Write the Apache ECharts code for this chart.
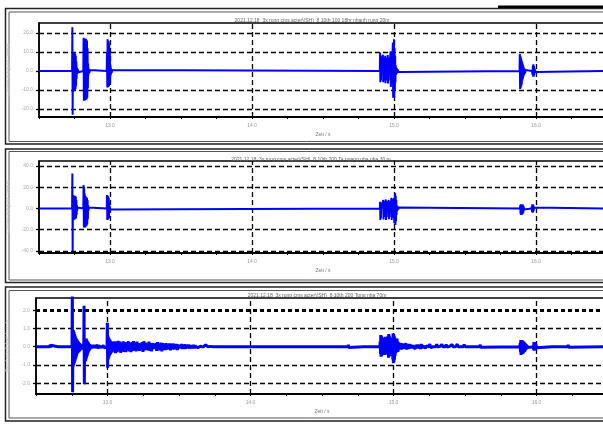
<!DOCTYPE html>
<html><head><meta charset="utf-8">
<script src="https://cdn.jsdelivr.net/npm/echarts@6/dist/echarts.min.js"></script>
<style>html,body{margin:0;padding:0;background:#fff;overflow:hidden}#c{width:603px;height:427px}</style>
</head><body><div id="c"></div><script>
// ---------- data ----------
const xMin = 12.5, xMax = 16.5;
const xMajor = [13, 14, 15, 16];
const xAxisName = 'Zeit / s';
const yAxisName = 'Geschwindigkeit / mm/s';
const SAMPLE_DT = 0.002;   // burst sample spacing (s)
const TAIL_DT = 0.006;     // tail sample spacing (s)

const titles = [
  '2021.12.18_3x rung cms acter\\(SH)_8 10th 100 18hr nhanh rung 20m',
  '2021.12.18_3x rung cms acter\\(SH)_8 10th 200 Ta ngang nha nha 30 m',
  '2021.12.18_3x rung cms acter\\(SH)_8 10th 200 Tong nha 70m'
];

const yTicks1 = [-20, -10, 0, 10, 20];
const yRange1 = [-24.2, 25.3];
const yTicks2 = [-40, -20, 0, 20, 40];
const yRange2 = [-41.9, 44.7];
const yTicks3 = [-2, -1, 0, 1, 2];
const yRange3 = [-2.59, 2.67];

// Panel 1 bursts
const p1Start = [12.733, 12.812, 12.977, 14.900, 15.884, 15.972];
const p1A = [0, 23, -23, 10, -10.8, 9.8, -10.5, 9.5, -10.2, 9.5, -10, 9, -9.5, 8, -8, 5, -4, 2, -1.5, 1.2, -1, 0.8, -0.6, 0.4, -0.3, 0];
const p1B = [0, 17.5, -15.6, 17, -15.4, 17.2, -15.5, 16.8, -15.2, 17, -15, 16.5, -14.8, 16, -14, 12, -9, 4, -2.5, 1.5, -1.2, 1, -0.8, 0.6, -0.4, 0];
const p1C = [0, 10, -8.6, 16.7, -8.6, 16, -8.2, 15.5, -8, 14, -7, 10, -5, 3, -2, 1.5, -1.2, 1, -0.8, 0.6, -0.4, 0];
const p1D = [0, 9.7, -5.9, 8, -5, 3, 0.5, -0.4, 0.3, -0.2, 0.2, 8.6, -5.9, 7, -5, 2, 0.4, -0.3, 0.3, 8, -6.4, 7, -5, 2, 0.4, -0.3, 0.3, -0.2, 8.5, -6.5, 7, -5, 2, 0.5, -0.4, 0.3, -0.3, 0.2, 10.4, -8.4, 9, -7, 3, 0.5, -0.4, 0.3, 15, -14, 13, -12, 16.7, -14, 12, -10, 8, -6, 3, -2, 2, -1.5, 1.5, -1, 1, -0.8, 0.6, -0.5, 0.4, -0.3, 0.2, 0];
const p1E = [0, 9, -9.4, 8, -9, 7, -8, 6, -7, 5, -5, 4, -4, 3, -3, 2, -2, 1.5, -1.5, 1, -1, 0.5, 0];
const p1F = [0, 1, -2, 3, -3, 3.5, -3, 2.5, -2, 1.5, -1, 0.8, -0.5, 0.3, 0];

// Panel 2 bursts
const p2Start = [12.733, 12.812, 12.977, 14.900, 15.887, 15.968];
const p2A = [0, 33, -40.6, 12.7, -10.8, 12.5, -10.5, 12, -10.5, 12, -10, 11.5, -10, 11, -9, 8, -6, 3, -2, 1, -0.5, 0];
const p2B = [0, 22, -18, 20, -18, 14, -18, 12, -17, 11, -17, 10, -16, 10, -15, 8, -10, 3, -2, 1, -0.5, 0];
const p2C = [0, 12.7, -10.8, 12, -10.5, 11.5, -10, 10, -9, 6, -4, 2, -1, 0.5, 0];
const p2D = [0, 6.4, -10.8, 5.5, -9, 3, 0.5, -0.4, 0.3, -0.2, 0.2, 0.1, 8, -10.3, 7, -8, 2, 0.4, -0.3, 0.3, -0.2, 8.5, -10.8, 7, -8, 2, 0.4, -0.3, 0.3, -0.2, 0.2, 8, -10, 7, -8, 2, 0.5, -0.4, 0.3, -0.3, 0.2, 10, -10.8, 9, -9, 3, 0.5, -0.4, 0.3, -0.2, 10, -13.9, 9, -12, 14.6, -15.5, 12, -12, 8, -6, 3, -2, 2, -1.5, 1.5, -1, 1, -0.8, 0.6, -0.5, 0.4, -0.3, 0.2, 0];
const p2E = [0, 3, -5, 4, -6, 4, -6, 4, -5.5, 4, -5, 3, -4, 2, -1, 0.5, 0];
const p2F = [0, 2, -3, 4, -4, 4, -3.5, 3, -2, 1, -0.5, 0];

// Panel 3 bursts (SAMPLE_DT)
const p3Start = [12.598, 12.654, 12.752, 12.834, 12.997, 14.521, 14.682, 14.787, 14.905, 15.605, 15.884, 15.976, 16.108, 16.220];
const p3Blip1 = [0, 0.12, -0.04, 0.08, 0];
const p3Blip2 = [0, 0.1, -0.05, 0.06, 0];
const p3A = [0, 3.5, -2.5, 0.8, -1.1, 0.9, -1.0, 0.8, -0.9, 0.7, -0.8, 0.6, -0.7, 0.5, -0.6, 0.45, -0.5, 0.4, -0.4, 0.35, -0.35, 0.3, -0.3, 0.25, -0.3, 0.2, -0.25, 0.2, -0.2, 0.15, -0.2, 0.15, -0.15, 0.1, -0.1, 0];
const p3B = [0, 2.24, -2.05, 0.47, -0.82, 0.45, -0.8, 0.4, -0.7, 0.45, -0.6, 0.35, -0.5, 0.3, -0.4, 0.25, -0.3, 0.2, -0.25, 0.15, -0.2, 0.15, -0.15, 0.1, -0.1, 0.1, -0.08, 0];
const p3C = [0, 1.31, -1.15, 0.6, -0.7, 0.5, -0.6, 0.45, -0.5, 0.4, -0.45, 0.35, -0.4, 0.3, -0.35, 0.3, -0.3, 0.25, -0.3, 0.25, -0.25, 0.2, -0.25, 0.2, -0.2, 0];
const p3Blip3 = [0, 0.1, -0.03, 0.05, 0];
const p3Blip4 = [0, 0.11, -0.04, 0];
const p3Blip5 = [0, 0.09, -0.05, 0.04, 0];
const p3D = [0, 0.3, -0.4, 0.64, -0.55, 0.6, -0.5, 0.5, -0.45, 0.4, -0.3, 0.2, -0.1, 0.1, -0.15, 0.2, -0.2, 0.5, -0.45, 0.55, -0.4, 0.45, -0.35, 0.3, -0.2, 0.15, -0.1, 0.1, -0.15, 0.6, -0.6, 0.7, -0.55, 0.6, -0.5, 0.5, -0.4, 0.35, -0.3, 0.2, -0.15, 0.1, -0.1, 0.15, 0.5, -0.7, 0.73, -0.9, 0.7, -0.85, 0.6, -0.7, 0.5, -0.5, 0.4, -0.35, 0.3, -0.2, 0.35, -0.3, 0.45, -0.25, 0.3, -0.28, 0.25, -0.2, 0.2, -0.15, 0.12, -0.1, 0.08, 0];
const p3Blip6 = [0, 0.12, -0.03, 0];
const p3E = [0, 0.2, -0.3, 0.37, -0.45, 0.35, -0.42, 0.37, -0.4, 0.33, -0.38, 0.3, -0.35, 0.28, -0.3, 0.25, -0.28, 0.2, -0.25, 0.18, -0.2, 0.15, -0.15, 0.1, -0.12, 0.08, -0.05, 0.03, 0];
const p3F = [0, 0.1, -0.15, 0.25, -0.22, 0.25, -0.2, 0.22, -0.18, 0.15, -0.12, 0.1, -0.05, 0.03, 0];
const p3Blip7 = [0, 0.1, -0.04, 0];
const p3Blip8 = [0, 0.11, -0.03, 0];

// Panel 3 tails (TAIL_DT)
const p3TailStart = [12.892, 13.050, 15.050];
const p3TailBC = [0.05, -0.08, 0.1, -0.05, 0.02, 0, 0.1, -0.1, 0.05, 0, 0.12, -0.05, 0.02, 0.08, -0.06, 0.03, 0];
const p3TailC = [
  0.3, -0.35, 0.25, -0.3, 0.32, -0.2, 0.28, -0.33, 0.2, -0.25,
  0.3, -0.28, 0.22, -0.3, 0.25, -0.2, 0.3, -0.25, 0.18, -0.3,
  0.25, -0.22, 0.3, -0.2, 0.15, -0.25, 0.28, -0.18, 0.2, -0.22,
  0.12, -0.1, 0.25, -0.28, 0.3, -0.2, 0.22, -0.15, 0.1, -0.2,
  0.28, -0.22, 0.18, -0.25, 0.2, -0.12, 0.08, -0.1, 0.2, -0.22,
  0.25, -0.2, 0.15, -0.18, 0.22, -0.25, 0.2, -0.15, 0.12, -0.18,
  0.2, -0.15, 0.1, -0.08, 0.18, -0.2, 0.15, -0.12, 0.18, -0.15,
  0.12, -0.1, 0.15, -0.18, 0.12, -0.08, 0.05, -0.06, 0.15, -0.12,
  0.1, -0.12, 0.14, -0.1, 0.08, -0.05, 0.12, -0.1, 0.06, -0.04,
  0.05, -0.06, 0.1, -0.08, 0.04, -0.03, 0.08, -0.05, 0.02, 0,
  0.03, -0.02, 0.1, -0.02, 0.02, 0, 0.1, 0, 0.02, 0,
  0.09, 0, 0.02, 0, 0.1, 0, 0
];
const p3TailD = [
  0.2, -0.15, 0.18, -0.12, 0.15, -0.1, 0.2, -0.15, 0.1, -0.12,
  0.15, -0.1, 0.12, -0.08, 0.05, -0.05, 0.15, -0.12, 0.1, -0.05,
  0.12, -0.1, 0.08, -0.12, 0.15, -0.08, 0.05, -0.03, 0.1, -0.08,
  0.05, 0, 0.02, 0, 0.15, -0.05, 0, 0.02, 0, 0,
  0.03, 0, 0.14, -0.02, 0, 0, 0.02, 0, 0.13, 0,
  0, 0.02, 0, 0.12, -0.02, 0, 0, 0.02, 0, 0,
  0.12, 0, 0, 0.02, 0, 0, 0.14, 0, 0, 0,
  0, 0.02, 0, 0, 0.12, 0, 0, 0, 0, 0
];

// ---------- build ----------
function buildPoints(groups) {
  const segs = [];
  groups.forEach(g => g.starts.forEach((t0, i) => segs.push({ t0, dt: g.dt, v: g.vals[i] })));
  segs.sort((a, b) => a.t0 - b.t0);
  const pts = [[xMin, 0]];
  segs.forEach(s => s.v.forEach((v, i) => pts.push([+(s.t0 + i * s.dt).toFixed(4), v])));
  pts.push([xMax, 0]);
  return pts;
}
const data1 = buildPoints([{ starts: p1Start, dt: SAMPLE_DT, vals: [p1A, p1B, p1C, p1D, p1E, p1F] }]);
const data2 = buildPoints([{ starts: p2Start, dt: SAMPLE_DT, vals: [p2A, p2B, p2C, p2D, p2E, p2F] }]);
const data3 = buildPoints([
  { starts: p3Start, dt: SAMPLE_DT, vals: [p3Blip1, p3Blip2, p3A, p3B, p3C, p3Blip3, p3Blip4, p3Blip5, p3D, p3Blip6, p3E, p3F, p3Blip7, p3Blip8] },
  { starts: p3TailStart, dt: TAIL_DT, vals: [p3TailBC, p3TailC, p3TailD] }
]);

const FONT = 'Liberation Sans';
const grids = [
  { left: 39, top: 23, width: 568, height: 94 },
  { left: 39, top: 161, width: 568, height: 92 },
  { left: 36, top: 298, width: 572, height: 96 }
];
const yTicksAll = [yTicks1, yTicks2, yTicks3];
const yRanges = [yRange1, yRange2, yRange3];
const datas = [data1, data2, data3];
const yNameGaps = [25, 25, 22];
const lineWidths = [2, 2, 3];

const dash = { color: '#000', type: [5, 3], width: 1.3 };

const option = {
  animation: false,
  backgroundColor: '#fff',
  textStyle: { fontFamily: FONT },
  title: [
    { text: titles[0], left: 307, top: 13, textAlign: 'center' },
    { text: titles[1], left: 306, top: 152, textAlign: 'center' },
    { text: titles[2], left: 312, top: 288, textAlign: 'center' }
  ].map(t => Object.assign(t, { textStyle: { fontSize: 5, fontWeight: 'normal', color: '#666', fontFamily: FONT } })),
  grid: grids.map(g => Object.assign({ show: true, borderColor: '#000', borderWidth: 1.5, backgroundColor: 'transparent', containLabel: false, outerBoundsMode: 'none' }, g)),
  xAxis: grids.map((g, i) => ({
    gridIndex: i, type: 'value', min: xMin, max: xMax, interval: 0.25,
    axisLine: { show: true, onZero: false, lineStyle: { color: '#000', width: 2 } },
    axisTick: { show: true, length: 2, lineStyle: { color: '#000', width: 1 } },
    axisLabel: {
      fontSize: 5, color: '#999', margin: 6, fontFamily: FONT,
      formatter: v => (xMajor.indexOf(Math.round(v * 100) / 100) >= 0 ? v.toFixed(1) : '')
    },
    splitLine: { show: false },
    name: xAxisName, nameLocation: 'middle', nameGap: 15,
    nameTextStyle: { fontSize: 5, color: '#777', fontFamily: FONT }
  })),
  yAxis: grids.map((g, i) => ({
    gridIndex: i, type: 'value', min: yRanges[i][0], max: yRanges[i][1],
    axisLine: { show: true, lineStyle: { color: '#000', width: 1.5 } },
    axisTick: { show: true, length: 3, customValues: yTicksAll[i], lineStyle: { color: '#000', width: 1.3 } },
    axisLabel: { fontSize: 5, color: '#aaa', margin: 6, customValues: yTicksAll[i], fontFamily: FONT, formatter: v => v.toFixed(1) },
    splitLine: { show: false },
    name: yAxisName, nameLocation: 'middle', nameGap: yNameGaps[i], nameRotate: 90,
    nameTextStyle: { fontSize: 5, color: '#c4c4c4', fontFamily: FONT }
  })),
  series: []
};

grids.forEach((g, i) => {
  const ml = yTicksAll[i].filter(v => v !== 0).map(v => ({ yAxis: v }));
  if (i === 2) {
    ml.forEach(d => { if (d.yAxis === 2) d.lineStyle = { color: '#000', type: [4, 3], width: 3 }; });
  }
  xMajor.forEach(v => ml.push({ xAxis: v }));
  option.series.push({
    type: 'line', xAxisIndex: i, yAxisIndex: i, z: 1,
    data: [[xMin, 0], [xMax, 0]], showSymbol: false, silent: true,
    lineStyle: { opacity: 0, width: 0 },
    markLine: { z: 1, silent: true, symbol: ['none', 'none'], label: { show: false }, lineStyle: dash, data: ml }
  });
  option.series.push({
    type: 'line', xAxisIndex: i, yAxisIndex: i, z: 3,
    data: datas[i], showSymbol: false, silent: true, clip: true,
    lineStyle: { color: '#0000ff', width: lineWidths[i], join: 'bevel' }
  });
});

// frames
const frames = [
  { y: 8.5, h: 135.5, iy: 12, ih: 129.5 },
  { y: 149, h: 133.5, iy: 151.5, ih: 128.5 },
  { y: 287, h: 134, iy: 290.5, ih: 127.5 }
];
option.graphic = [];
frames.forEach(f => {
  option.graphic.push({ type: 'rect', shape: { x: 5.5, y: f.y, width: 700, height: f.h }, style: { fill: 'none', stroke: '#222', lineWidth: 1.5 }, silent: true });
  option.graphic.push({ type: 'rect', shape: { x: 9, y: f.iy, width: 700, height: f.ih }, style: { fill: 'none', stroke: '#555', lineWidth: 1 }, silent: true });
});
option.graphic.push({ type: 'rect', shape: { x: 498, y: 5.5, width: 110, height: 2.5 }, style: { fill: '#000' }, silent: true });

const chart = echarts.init(document.getElementById('c'), null, { renderer: 'canvas' });
chart.setOption(option);
</script></body></html>
